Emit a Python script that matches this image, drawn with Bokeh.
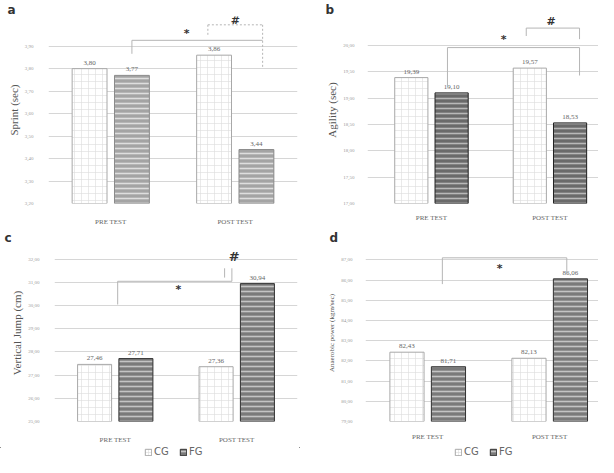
import numpy as np
from bokeh.plotting import figure
from bokeh.layouts import column, row
from bokeh.models import Range1d, FixedTicker, Legend, LegendItem
from bokeh.core.properties import value
from bokeh.embed import file_html
from bokeh.resources import INLINE

categories = ["PRE TEST", "POST TEST"]
groups = ["CG", "FG"]

sprint_cg = [3.80, 3.86]
sprint_fg = [3.77, 3.44]
sprint_ticks = [3.20, 3.30, 3.40, 3.50, 3.60, 3.70, 3.80, 3.90]
sprint_tick_labels = ["3,20", "3,30", "3,40", "3,50", "3,60", "3,70", "3,80", "3,90"]

agility_cg = [19.39, 19.57]
agility_fg = [19.10, 18.53]
agility_ticks = [17.0, 17.5, 18.0, 18.5, 19.0, 19.5, 20.0]
agility_tick_labels = ["17,00", "17,50", "18,00", "18,50", "19,00", "19,50", "20,00"]

jump_cg = [27.46, 27.36]
jump_fg = [27.71, 30.94]
jump_ticks = [25.0, 26.0, 27.0, 28.0, 29.0, 30.0, 31.0, 32.0]
jump_tick_labels = ["25,00", "26,00", "27,00", "28,00", "29,00", "30,00", "31,00", "32,00"]

power_cg = [82.43, 82.13]
power_fg = [81.71, 86.06]
power_ticks = [79.0, 80.0, 81.0, 82.0, 83.0, 84.0, 85.0, 86.0, 87.0]
power_tick_labels = ["79,00", "80,00", "81,00", "82,00", "83,00", "84,00", "85,00", "86,00", "87,00"]

SERIF = "Liberation Serif"
SANS = "DejaVu Sans"

CG_STYLE = dict(fill_color="white", line_color="#a8a8a8", line_width=1,
                hatch_pattern="cross", hatch_color="#dcdcdc", hatch_scale=7, hatch_weight=0.6)


def fg_style(fill, hatch, line):
    return dict(fill_color=fill, line_color=line, line_width=1,
                hatch_pattern="horizontal_line", hatch_color=hatch, hatch_scale=5, hatch_weight=1.6)


def fmt(v):
    return f"{v:.2f}".replace(".", ",")


IDX = np.arange(len(categories)) + 0.5
OFF = 0.17
BW = 0.28


def make_panel(letter, title, cg, fg, ticks, tick_labels, yr, xr, size, borders,
               fgs, title_size, label_standoff, tick_standoff, letter_offset):
    w, h = size
    bl, br, bt, bb = borders
    p = figure(width=w, height=h, x_range=Range1d(*xr), y_range=Range1d(*yr),
               output_backend="svg", toolbar_location=None,
               min_border_left=bl, min_border_right=br, min_border_top=bt, min_border_bottom=bb)
    p.outline_line_color = None
    p.xgrid.visible = False
    p.ygrid.grid_line_color = "#d6d6d6"
    p.ygrid.grid_line_width = 1

    p.title.text = letter
    p.title.align = "left"
    p.title.offset = letter_offset
    p.title.standoff = 0
    p.title.text_font = SANS
    p.title.text_font_style = "bold"
    p.title.text_font_size = "12px"
    p.title.text_color = "#333333"

    p.yaxis.ticker = FixedTicker(ticks=ticks)
    p.yaxis.major_label_overrides = {t: l for t, l in zip(ticks, tick_labels)}
    p.yaxis.axis_line_color = None
    p.yaxis.major_tick_line_color = None
    p.yaxis.minor_tick_line_color = None
    p.yaxis.major_label_text_font = SERIF
    p.yaxis.major_label_text_font_size = "5px"
    p.yaxis.major_label_text_color = "#999999"
    p.yaxis.major_label_standoff = tick_standoff
    p.yaxis.axis_label = title
    p.yaxis.axis_label_text_font = SERIF
    p.yaxis.axis_label_text_font_style = "normal"
    p.yaxis.axis_label_text_font_size = title_size
    p.yaxis.axis_label_text_color = "#555555"
    p.yaxis.axis_label_standoff = 2

    p.xaxis.ticker = FixedTicker(ticks=list(IDX))
    p.xaxis.major_label_overrides = {float(i): c for i, c in zip(IDX, categories)}
    p.xaxis.axis_line_color = None
    p.xaxis.major_tick_line_color = None
    p.xaxis.minor_tick_line_color = None
    p.xaxis.major_label_text_font = SERIF
    p.xaxis.major_label_text_font_size = "7px"
    p.xaxis.major_label_text_color = "#666666"
    p.xaxis.major_label_standoff = label_standoff

    base = ticks[0]
    p.vbar(x=IDX - OFF, top=cg, bottom=base, width=BW, **CG_STYLE)
    p.vbar(x=IDX + OFF, top=fg, bottom=base, width=BW, **fgs)

    xs = list(IDX - OFF) + list(IDX + OFF)
    ys = list(cg) + list(fg)
    p.text(x=xs, y=ys, text=[fmt(v) for v in ys], text_align="center", text_baseline="bottom",
           y_offset=-4, text_font=value(SERIF), text_font_size="7px", text_color="#666666")
    return p


def legend_fig(cg, fg, base, fgs, left):
    # legend strip: its renderers hold the panel's data but lie outside the visible range
    lf = figure(width=299, height=11, x_range=Range1d(10, 11), y_range=Range1d(0, 1),
                output_backend="svg", toolbar_location=None, x_axis_type=None, y_axis_type=None,
                min_border_left=0, min_border_right=0, min_border_top=0, min_border_bottom=0)
    lf.outline_line_color = None
    lf.grid.visible = False
    r_cg = lf.vbar(x=IDX - OFF, top=cg, bottom=base, width=BW, **CG_STYLE)
    r_fg = lf.vbar(x=IDX + OFF, top=fg, bottom=base, width=BW, **fgs)
    leg = Legend(items=[LegendItem(label=groups[0], renderers=[r_cg], index=0),
                        LegendItem(label=groups[1], renderers=[r_fg], index=0)],
                 location=(left, 0), orientation="horizontal",
                 glyph_width=8, glyph_height=8, label_text_font=SANS,
                 label_text_font_size="10px", label_text_color="#666666",
                 label_height=10, spacing=5, padding=0, margin=0, label_standoff=2,
                 border_line_color=None, background_fill_alpha=0)
    lf.add_layout(leg)
    return lf


def seg(p, x0, y0, x1, y1, dash="solid"):
    p.segment(x0=[x0], y0=[y0], x1=[x1], y1=[y1], line_color="#b5b5b5", line_width=1, line_dash=dash)


def mark(p, x, y, t, size="11px"):
    p.text(x=[x], y=[y], text=[t], text_align="center", text_baseline="middle",
           text_font=value(SANS), text_font_style="bold", text_font_size=size, text_color="#333333")


fg_a = fg_style("#a4a4a4", "#dedede", "#8a8a8a")
fg_b = fg_style("#6a6a6a", "#b8b8b8", "#222222")
fg_cd = fg_style("#7a7a7a", "#c4c4c4", "#333333")

# panel a
pa = make_panel("a", "Sprint (sec)", sprint_cg, sprint_fg, sprint_ticks, sprint_tick_labels,
                (3.20, 4.032), (0.0, 2.0), (299, 228), (48, 2, 16, 17),
                fg_a, "11px", 8, 9, -41)
seg(pa, 0.67, 3.926, 1.72, 3.926)
seg(pa, 0.67, 3.926, 0.67, 3.866)
seg(pa, 1.72, 3.995, 1.72, 3.80, "2 2")
seg(pa, 1.28, 3.995, 1.72, 3.995, "2 2")
seg(pa, 1.28, 3.995, 1.28, 3.943, "2 2")
mark(pa, 1.11, 3.955, "*")
mark(pa, 1.50, 4.012, "#")

# panel b
pb = make_panel("b", "Agility (sec)", agility_cg, agility_fg, agility_ticks, agility_tick_labels,
                (17.0, 20.55), (-0.04, 1.91), (299, 228), (68, 0, 16, 13),
                fg_b, "11px", 4, 7, -42)
seg(pb, 0.635, 19.96, 1.75, 19.96)
seg(pb, 0.635, 19.96, 0.635, 19.2)
seg(pb, 1.75, 19.96, 1.75, 19.43)
seg(pb, 1.30, 20.33, 1.75, 20.33)
seg(pb, 1.30, 20.33, 1.30, 20.18)
seg(pb, 1.75, 20.33, 1.75, 20.12)
mark(pb, 1.11, 20.12, "*")
mark(pb, 1.51, 20.46, "#")

# panel c
pc = make_panel("c", "Vertical Jump (cm)", jump_cg, jump_fg, jump_ticks, jump_tick_labels,
                (25.0, 32.625), (0.0, 2.0), (299, 218), (54, 2, 16, 19),
                fg_cd, "11px", 8, 9, -50)
seg(pc, 0.52, 31.04, 1.46, 31.04)
seg(pc, 0.52, 31.04, 0.52, 30.04)
seg(pc, 1.46, 31.04, 1.46, 31.6)
seg(pc, 1.40, 31.6, 1.40, 31.2)
mark(pc, 1.02, 30.67, "*")
mark(pc, 1.48, 32.12, "#", "13px")

# panel d
pd = make_panel("d", "Anaerobic power (kgm/sec)", power_cg, power_fg, power_ticks, power_tick_labels,
                (79.0, 87.76), (-0.01, 1.90), (299, 218), (66, 0, 16, 18),
                fg_cd, "7px", 5, 7, -36)
seg(pd, 0.62, 87.1, 1.64, 87.1)
seg(pd, 0.62, 87.1, 0.62, 85.8)
seg(pd, 1.64, 87.1, 1.64, 86.3)
mark(pd, 1.09, 86.57, "*")

lc = legend_fig(jump_cg, jump_fg, jump_ticks[0], fg_cd, 144)
ld = legend_fig(power_cg, power_fg, power_ticks[0], fg_cd, 155)

layout = column(row(pa, pb), row(pc, pd), row(lc, ld))
open("out.html", "w").write(file_html(layout, INLINE))
